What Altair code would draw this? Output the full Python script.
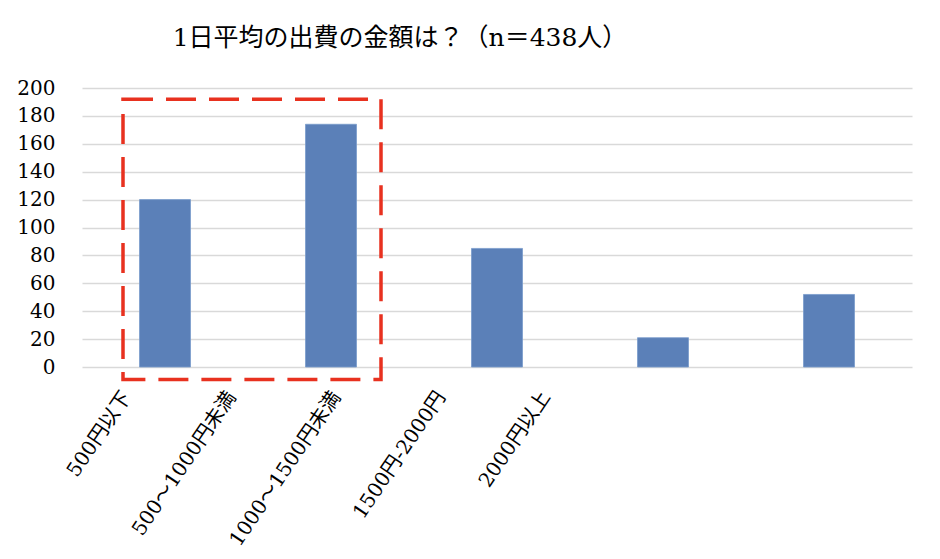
import altair as alt
import pandas as pd

categories = ["500円以下", "500～1000円未満", "1000～1500円未満", "1500円-2000円", "2000円以上"]
counts = [120, 174, 85, 21, 52]
title_text = "1日平均の出費の金額は？（n＝438人）"
y_ticks = [0, 20, 40, 60, 80, 100, 120, 140, 160, 180, 200]

# highlight box (annotation) vertical extent in data units
box_y = [-9]
box_y2 = [192]

df = pd.DataFrame({"cat": categories, "n": counts})
box_df = pd.DataFrame({"y": box_y, "y2": box_y2})

FONT = "DejaVu Serif, Noto Sans CJK JP"

yscale = alt.Scale(domain=[0, 200])
y_axis = alt.Axis(values=y_ticks, labelFont=FONT, labelFontSize=20, labelColor="#000000",
                  labelPadding=27, ticks=False, domain=False, labelOverlap=False,
                  gridColor="#d9d9d9", gridWidth=1.6)

bars = alt.Chart(df).mark_bar(size=51, color="#5b80b8", stroke="#7a9ccc", strokeWidth=0.8).encode(
    x=alt.X("cat:N", sort=categories, title=None,
            scale=alt.Scale(paddingInner=0, paddingOuter=0),
            axis=alt.Axis(labelAngle=-56, labelAlign="right", labelBaseline="middle",
                          labelFont=FONT, labelFontSize=20, labelColor="#000000",
                          labelPadding=26, ticks=False, domain=False, grid=False,
                          labelOverlap=False, labelLimit=300,
                          labelOffset=alt.expr("-38 - 245*datum.index"))),
    y=alt.Y("n:Q", scale=yscale, title=None, axis=y_axis),
)

box = alt.Chart(box_df).mark_rect(fill=None, stroke="#e8311f", strokeWidth=3.5,
                                   strokeDash=[30, 13]).encode(
    x=alt.value(41), x2=alt.value(299),
    y=alt.Y("y:Q", scale=yscale, title=None, axis=y_axis), y2="y2:Q",
)

chart = alt.layer(bars, box).properties(
    width=830, height=279,
    autosize="none",
    padding={"left": 74, "top": 80, "right": 20, "bottom": 184},
    title=alt.TitleParams(title_text, font=FONT, fontSize=25, fontWeight="normal",
                          color="#000000", anchor="middle", dx=-97, offset=27),
).configure_view(stroke=None)

chart.save("out.html", embed_options={"renderer": "svg", "actions": False})
